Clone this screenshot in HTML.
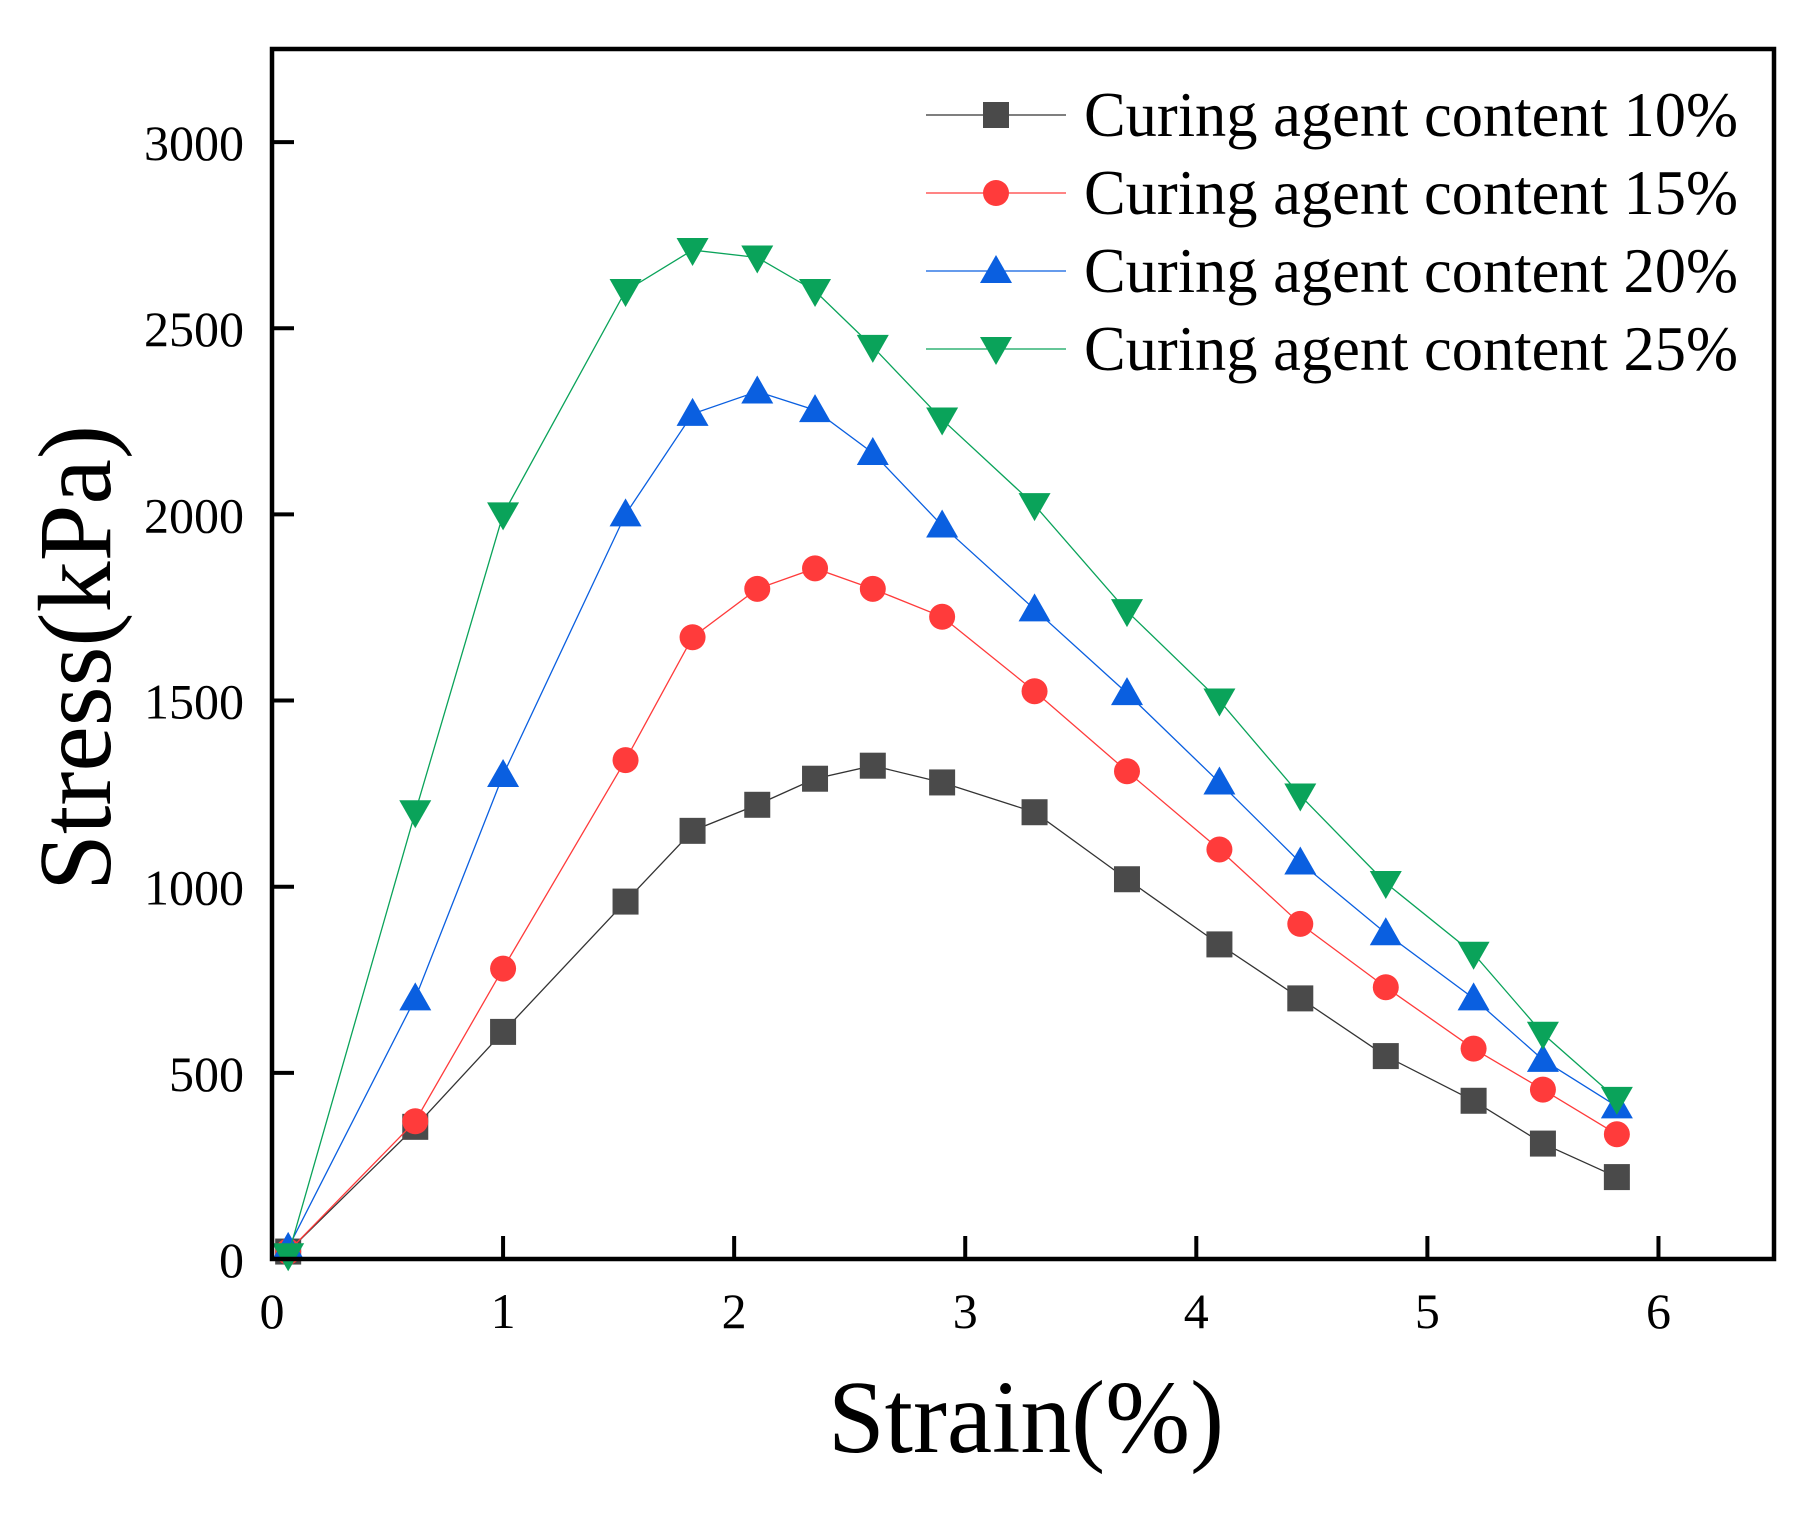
<!DOCTYPE html>
<html><head><meta charset="utf-8"><style>
html,body{margin:0;padding:0;background:#fff}
svg{display:block}
text{font-family:"Liberation Serif",serif}
</style></head><body>
<svg id="chart" width="1818" height="1520" viewBox="0 0 1818 1520">
<rect x="0" y="0" width="1818" height="1520" fill="#fff"/>
<g id="plot"></g>
<rect id="frame" x="272" y="49" width="1502" height="1210" fill="none" stroke="#000" stroke-width="4.5"/>
<g id="xticks"></g>
<g id="yticks"></g>
<text x="1026" y="1452" font-size="104" text-anchor="middle" textLength="396" lengthAdjust="spacingAndGlyphs">Strain(%)</text>
<text transform="translate(110,658) rotate(-90)" font-size="104" text-anchor="middle" textLength="466" lengthAdjust="spacingAndGlyphs">Stress(kPa)</text>
<g id="legend"></g>
</svg>
<script>
const strain = [0.07,0.62,1.0,1.53,1.82,2.1,2.35,2.6,2.9,3.3,3.7,4.1,4.45,4.82,5.2,5.5,5.82];
const stress10 = [20,355,610,960,1150,1220,1290,1325,1280,1200,1020,845,700,545,425,310,220];
const stress15 = [20,370,780,1340,1670,1800,1855,1800,1725,1525,1310,1100,900,730,565,455,335];
const stress20 = [30,700,1300,2000,2270,2330,2280,2165,1970,1745,1520,1280,1065,875,700,535,410];
const stress25 = [10,1200,2000,2600,2710,2690,2600,2450,2255,2025,1740,1500,1245,1010,820,605,430];
const seriesNames = ["Curing agent content 10%","Curing agent content 15%","Curing agent content 20%","Curing agent content 25%"];
const xTicks = [0,1,2,3,4,5,6];
const yTicks = [0,500,1000,1500,2000,2500,3000];

const NS="http://www.w3.org/2000/svg";
const X0=272,X1=1774,Y0=1259,Y1=49,XMAX=6.5,YMAX=3250;
const sx=v=>X0+(X1-X0)*v/XMAX;
const sy=v=>Y0-(Y0-Y1)*v/YMAX;
function mk(tag,attrs,parent){const e=document.createElementNS(NS,tag);for(const k in attrs)e.setAttribute(k,attrs[k]);parent.appendChild(e);return e;}

const xg=document.getElementById('xticks');
xTicks.forEach(t=>{
  const l=mk('line',{x1:sx(t),x2:sx(t),y1:Y0,y2:Y0-23,stroke:'#000','stroke-width':4},xg);
  
  
  const tx=mk('text',{x:sx(t),y:1328,'font-size':50,'text-anchor':'middle',textLength:25*String(t).length,lengthAdjust:'spacingAndGlyphs'},xg);
  tx.textContent=t;
  
  
});
const yg=document.getElementById('yticks');
yTicks.forEach(t=>{
  const l=mk('line',{x1:X0,x2:X0+22,y1:sy(t),y2:sy(t),stroke:'#000','stroke-width':4},yg);
  
  
  const tx=mk('text',{x:244,y:sy(t)+18,'font-size':50,'text-anchor':'end',textLength:25*String(t).length,lengthAdjust:'spacingAndGlyphs'},yg);
  tx.textContent=t;
  
  
});

const colors=['#4a4a4a','#ff3b3b','#0a5fe0','#0aa35a'];
const lineColors=['#333','#ff3b3b','#0a5fe0','#0aa35a'];
const shapes=['square','circle','up','down'];
function marker(g,shape,x,y,c){
  let e;
  if(shape==='square') e=mk('rect',{x:x-13,y:y-13,width:26,height:26,fill:c},g);
  else if(shape==='circle') e=mk('circle',{cx:x,cy:y,r:13,fill:c},g);
  else if(shape==='up') e=mk('polygon',{points:`${x},${y-16} ${x+16},${y+12} ${x-16},${y+12}`,fill:c},g);
  else e=mk('polygon',{points:`${x},${y+16} ${x+16},${y-12} ${x-16},${y-12}`,fill:c},g);
  return e;
}
const plot=document.getElementById('plot');
[stress10,stress15,stress20,stress25].forEach((arr,i)=>{
  const g=mk('g',{},plot);
  
  
  const pl=mk('polyline',{points:arr.map((v,j)=>sx(strain[j])+','+sy(v)).join(' '),fill:'none',stroke:lineColors[i],'stroke-width':1.3},g);
  
  
  arr.forEach((v,j)=>{
    const m=marker(g,shapes[i],sx(strain[j]),sy(v),colors[i]);
    
    
  });
});
const lg=document.getElementById('legend');
seriesNames.forEach((n,i)=>{
  const y=115+i*78;
  const g=mk('g',{},lg);
  
  
  mk('line',{x1:926,x2:1066,y1:y,y2:y,stroke:lineColors[i],'stroke-width':1.3},g);
  marker(g,shapes[i],996,y,colors[i]);
  const t=mk('text',{x:1084,y:y+21,'font-size':64,textLength:654,lengthAdjust:'spacingAndGlyphs'},g);
  t.textContent=n;
  
  
});
</script>
</body></html>
